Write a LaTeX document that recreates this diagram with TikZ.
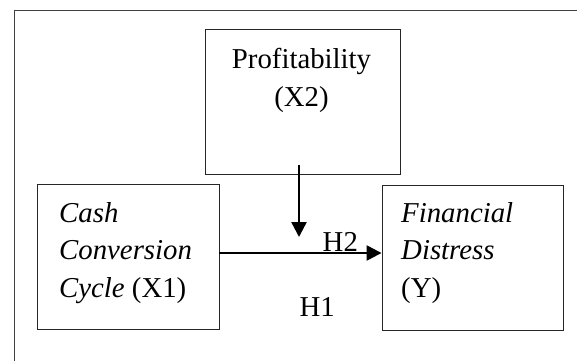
\documentclass[tikz,border=0pt]{standalone}
\usepackage{fontspec}
\setmainfont{Liberation Serif}
\usetikzlibrary{arrows.meta}

\begin{document}
\begin{tikzpicture}[x=1pt,y=-1pt,
    font=\fontsize{28.8pt}{37.5pt}\selectfont,
    box/.style={draw=black!85, line width=0.9pt, inner sep=0pt},
    txt/.style={inner sep=0pt},
    arr/.style={line width=2.4pt, -{Triangle[length=15pt,width=15pt]}},
    frame/.style={draw=black!75, line width=0.8pt}]
     \useasboundingbox (0,0) rectangle (577,360);
     \draw[frame] (14,365) -- (14,10) -- (582,10);
     % boxes
     \node[box, minimum width=195pt, minimum height=145.5pt] (profit) at (302.5,101.75) {};
     \node[box, minimum width=181.5pt, minimum height=145pt] (cash) at (128.25,256.5) {};
     \node[box, minimum width=181pt, minimum height=145pt] (fin) at (472.5,257.5) {};
     % box texts
     \node[txt, anchor=north, align=center] (profittext) at (301.5,48.3) {Profitability\\(X2)};
     \node[txt, anchor=north west, align=left] (cashtext) at (59,202) {\textit{Cash}\\\textit{Conversion}\\\textit{Cycle} (X1)};
     \node[txt, anchor=north west, align=left] (fintext) at (401,202) {\textit{Financial}\\\textit{Distress}\\(Y)};
     % hypotheses
     \node[txt, anchor=base west] (h2) at (322.5,251) {H2};
     \node[txt, anchor=base west] (h1) at (299.5,316.7) {H1};
     % arrows
     \coordinate (modstart) at (299,165);
     \coordinate (modend) at (299,237);
     \draw[arr] (modstart) -- (modend);
     \draw[arr] ([yshift=3.5pt]cash.east) -- ([yshift=3.5pt]cash.east -| fin.west);
    \end{tikzpicture}
\end{document}
